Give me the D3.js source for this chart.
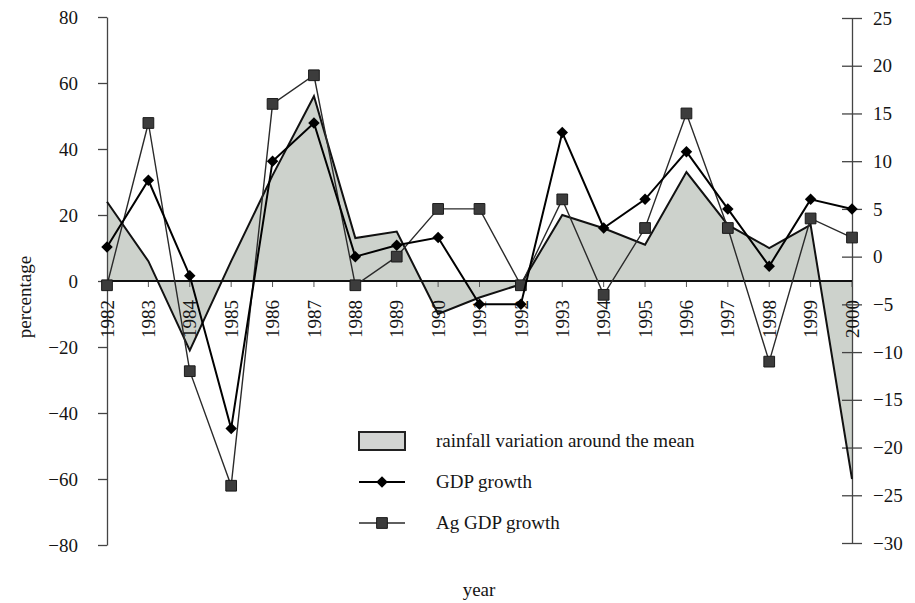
<!DOCTYPE html>
<html>
<head>
<meta charset="utf-8">
<script src="https://cdn.jsdelivr.net/npm/d3@7"></script>
<style>
  body { margin: 0; background: #fff; }
  text { font-family: "Liberation Serif", "Times New Roman", serif; fill: #151515; }
</style>
</head>
<body>
<svg id="chart" width="915" height="603"></svg>
<script>
// Yearly series
const years = [1982, 1983, 1984, 1985, 1986, 1987, 1988, 1989, 1990, 1991,
               1992, 1993, 1994, 1995, 1996, 1997, 1998, 1999, 2000];
// rainfall variation around the mean (%, left axis)
const rainfall = [24, 6, -21, 6, 32, 56, 13, 15, -10, -5,
                  -1, 20, 16, 11, 33, 17, 10, 17, -60];
// GDP growth (%, right axis)
const gdpGrowth = [1, 8, -2, -18, 10, 14, 0, 1.2, 2, -5,
                   -5, 13, 3, 6, 11, 5, -1, 6, 5];
// agricultural GDP growth (%, right axis)
const agGdpGrowth = [-3, 14, -12, -24, 16, 19, -3, 0, 5, 5,
                     -3, 6, -4, 3, 15, 3, -11, 4, 2];

const leftTicks = [-80, -60, -40, -20, 0, 20, 40, 60, 80];
const rightTicks = [-30, -25, -20, -15, -10, -5, 0, 5, 10, 15, 20, 25];

const legendLabels = ["rainfall variation around the mean", "GDP growth", "Ag GDP growth"];

const FS = 19;
const svg = d3.select("#chart");

const x = d3.scaleLinear().domain([1982, 2000]).range([107, 852]);
const yL = d3.scaleLinear().domain([-80, 80]).range([545, 17]);
const yR = d3.scaleLinear().domain([-30, 25]).range([543, 18]);

const fmt = d => d < 0 ? "\u2212" + Math.abs(d) : String(d);

const rain = years.map((yr, i) => ({ yr, v: rainfall[i] }));
const gdp = years.map((yr, i) => ({ yr, v: gdpGrowth[i] }));
const ag = years.map((yr, i) => ({ yr, v: agGdpGrowth[i] }));

// rainfall area filled against the zero line
svg.append("path")
  .datum(rain)
  .attr("fill", "#cdd2cc")
  .attr("d", d3.area().x(d => x(d.yr)).y0(yL(0)).y1(d => yL(d.v)));

// left axis
const gL = svg.append("g").attr("transform", `translate(${x(1982)},0)`)
  .call(d3.axisLeft(yL).tickValues(leftTicks).tickSize(9).tickSizeOuter(0)
    .tickPadding(20).tickFormat(fmt));
gL.select(".domain").attr("stroke", "#444").attr("stroke-width", 1.3);
gL.selectAll(".tick line").attr("stroke", "#444").attr("stroke-width", 1.3);
gL.selectAll(".tick text").attr("font-size", FS);

// right axis, ticks crossing the line
const gR = svg.append("g").attr("transform", `translate(${x(2000)},0)`)
  .call(d3.axisRight(yR).tickValues(rightTicks).tickSize(10).tickSizeOuter(0)
    .tickPadding(11).tickFormat(fmt));
gR.select(".domain").attr("stroke", "#444").attr("stroke-width", 1.3);
gR.selectAll(".tick line").attr("x1", -10).attr("stroke", "#444").attr("stroke-width", 1.3);
gR.selectAll(".tick text").attr("font-size", FS);

// year axis along the zero line
const y0 = yL(0);
svg.append("g").selectAll("line").data(years).join("line")
  .attr("x1", d => x(d)).attr("x2", d => x(d))
  .attr("y1", y0).attr("y2", y0 + 6)
  .attr("stroke", "#555").attr("stroke-width", 1);
svg.append("line")
  .attr("x1", x(1982)).attr("x2", x(2000))
  .attr("y1", y0).attr("y2", y0)
  .attr("stroke", "#111").attr("stroke-width", 2.2);
svg.append("g").selectAll("text").data(years).join("text")
  .attr("transform", d => `translate(${x(d)},${y0 + 19}) rotate(-90)`)
  .attr("text-anchor", "end")
  .attr("dy", "0.35em")
  .attr("font-size", FS)
  .text(d => d);

// rainfall outline
svg.append("path")
  .datum(rain)
  .attr("fill", "none").attr("stroke", "#111").attr("stroke-width", 2)
  .attr("d", d3.line().x(d => x(d.yr)).y(d => yL(d.v)));

// Ag GDP growth line + squares
svg.append("path")
  .datum(ag)
  .attr("fill", "none").attr("stroke", "#2a2a2a").attr("stroke-width", 1.4)
  .attr("d", d3.line().x(d => x(d.yr)).y(d => yR(d.v)));
const square = d3.symbol(d3.symbolSquare, 115)();
svg.append("g").selectAll("path").data(ag).join("path")
  .attr("d", square)
  .attr("transform", d => `translate(${x(d.yr)},${yR(d.v)})`)
  .attr("fill", "#3c3c3c").attr("stroke", "#1a1a1a").attr("stroke-width", 1);

// GDP growth line + diamonds
svg.append("path")
  .datum(gdp)
  .attr("fill", "none").attr("stroke", "#000").attr("stroke-width", 2)
  .attr("d", d3.line().x(d => x(d.yr)).y(d => yR(d.v)));
const diamond = d3.symbol(d3.symbolSquare, 66)();
svg.append("g").selectAll("path").data(gdp).join("path")
  .attr("d", diamond)
  .attr("transform", d => `translate(${x(d.yr)},${yR(d.v)}) rotate(45)`)
  .attr("fill", "#000");

// axis titles
svg.append("text")
  .attr("transform", "translate(24,297) rotate(-90)")
  .attr("text-anchor", "middle").attr("dy", "0.35em")
  .attr("font-size", FS).text("percentage");
svg.append("text")
  .attr("x", 479).attr("y", 596)
  .attr("text-anchor", "middle")
  .attr("font-size", FS).text("year");

// legend
const lg = svg.append("g");
lg.append("rect").attr("x", 359).attr("y", 432).attr("width", 46).attr("height", 18)
  .attr("fill", "#d2d4d2").attr("stroke", "#222").attr("stroke-width", 2);
lg.append("line").attr("x1", 359).attr("x2", 405).attr("y1", 482).attr("y2", 482)
  .attr("stroke", "#000").attr("stroke-width", 2);
lg.append("path").attr("d", diamond).attr("transform", "translate(382,482) rotate(45)").attr("fill", "#000");
lg.append("line").attr("x1", 359).attr("x2", 405).attr("y1", 523).attr("y2", 523)
  .attr("stroke", "#2a2a2a").attr("stroke-width", 1.4);
lg.append("path").attr("d", square).attr("transform", "translate(382,523)")
  .attr("fill", "#3c3c3c").attr("stroke", "#1a1a1a");
lg.selectAll("text.lab").data(legendLabels).join("text")
  .attr("class", "lab")
  .attr("x", 436)
  .attr("y", (d, i) => [447, 488, 529][i])
  .attr("font-size", FS)
  .text(d => d);
</script>
</body>
</html>
